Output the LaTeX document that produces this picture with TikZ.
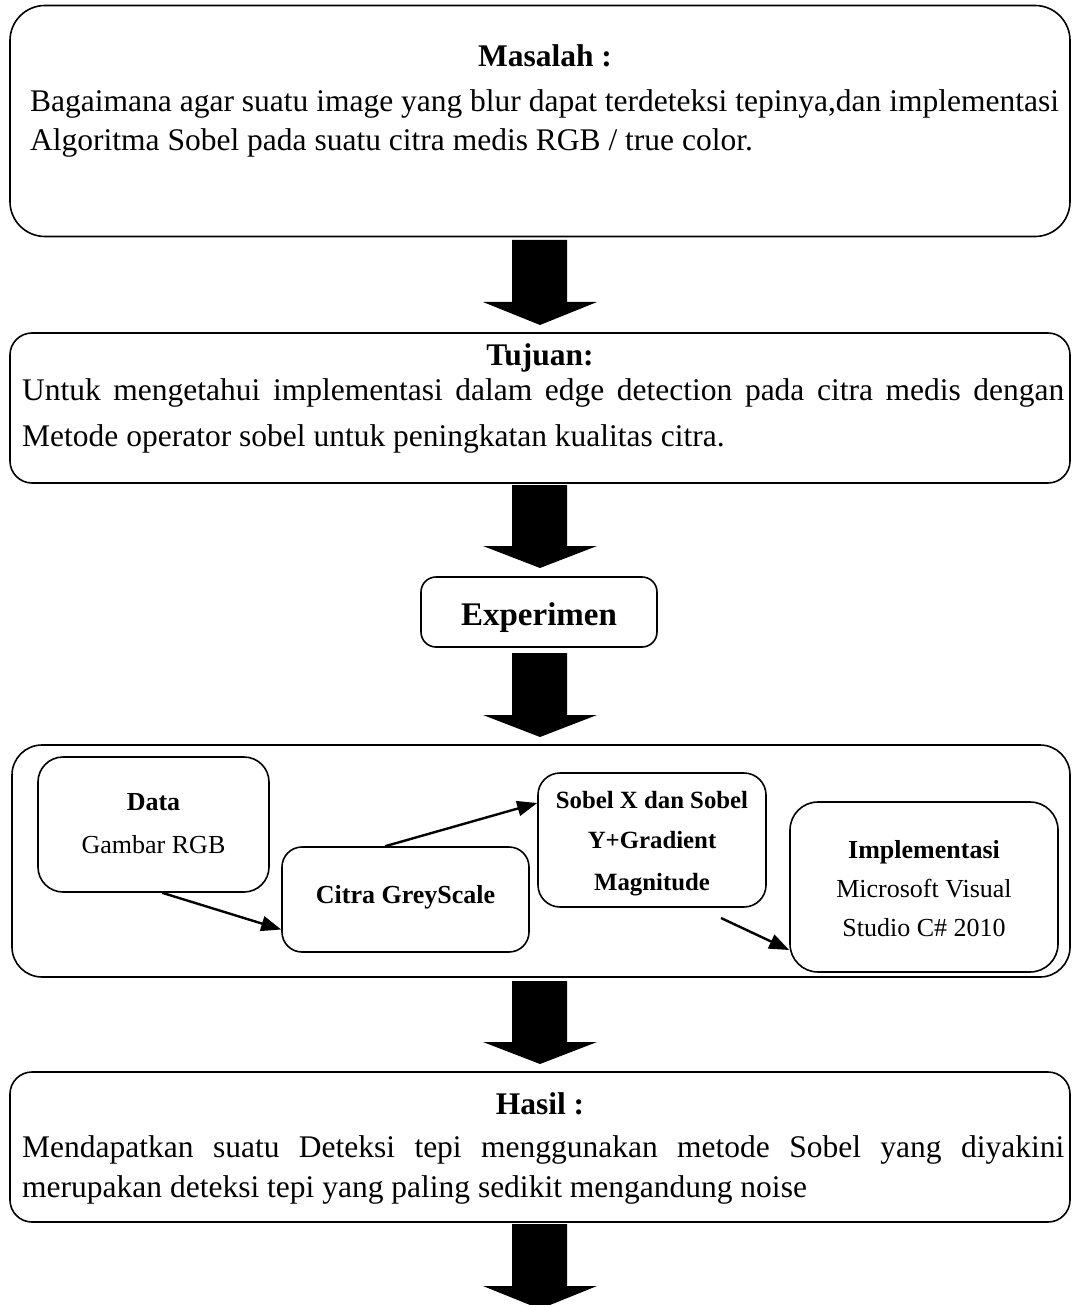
\documentclass[tikz,border=0pt]{standalone}
\usepackage{fontspec}
\setmainfont{Liberation Serif}
\usetikzlibrary{calc,arrows.meta}
\newcommand\blockarrow[3]{\fill (512,#1) -- (567,#1) -- (567,#2) -- (597,#2) -- (540,#3) -- (483,#2) -- (512,#2) -- cycle;}
\begin{document}
\begin{tikzpicture}[x=1pt,y=-1pt,
  box/.style={draw=black,line width=1.6pt,inner sep=0pt},
  body/.style={inner sep=0pt,font=\fontsize{31.5}{36}\selectfont},
  head/.style={inner sep=0pt,font=\fontsize{31.5}{36}\selectfont\bfseries},
  small/.style={inner sep=0pt,font=\fontsize{26}{30}\selectfont},
  smallb/.style={inner sep=0pt,font=\fontsize{26}{30}\selectfont\bfseries},
  sobelf/.style={inner sep=0pt,font=\fontsize{24.8}{28}\selectfont\bfseries},
  conn/.style={line width=2.4pt,-{Triangle[length=20pt,width=15pt]}}]
\useasboundingbox (0,0) rectangle (1073,1305);
% Masalah
\node[box,rounded corners=35pt,minimum width=1060pt,minimum height=231pt] (masalah) at (540,121) {};
\node[head,anchor=base] (tmasalah) at (545,67) {Masalah :};
\node[body,anchor=base west] (m1) at (30,112) {Bagaimana agar suatu image yang blur dapat terdeteksi tepinya,dan implementasi};
\node[body,anchor=base west] (m2) at (30,151) {Algoritma Sobel pada suatu citra medis RGB / true color.};
\blockarrow{240}{302}{325}
% Tujuan
\node[box,rounded corners=22pt,minimum width=1060pt,minimum height=150pt] (tujuan) at (540,408) {};
\node[head,anchor=base] (ttujuan) at (540,365) {Tujuan:};
\node[body,anchor=base west] (t1) at (22,400) {\makebox[1042pt][s]{Untuk mengetahui implementasi dalam edge detection pada citra medis dengan}};
\node[body,anchor=base west] (t2) at (22,446) {Metode operator sobel untuk peningkatan kualitas citra.};
\blockarrow{485}{546}{568}
% Experimen
\node[box,rounded corners=15pt,minimum width=236pt,minimum height=70pt] (exp) at (539,612) {};
\node[inner sep=0pt,font=\fontsize{33}{38}\selectfont\bfseries,anchor=base] (texp) at (539,625) {Experimen};
\blockarrow{653}{715}{737}
% big box
\node[box,rounded corners=30pt,minimum width=1058pt,minimum height=232pt] (big) at (541,861) {};
\node[box,rounded corners=25pt,minimum width=231pt,minimum height=135pt] (data) at (153.5,824.5) {};
\node[smallb,anchor=base] (tdata) at (153.5,810) {Data};
\node[small,anchor=base] (tgambar) at (153.5,853) {Gambar RGB};
\node[box,rounded corners=20pt,minimum width=247pt,minimum height=105pt] (grey) at (405.5,899.5) {};
\node[smallb,anchor=base] (tgrey) at (405.5,903) {Citra GreyScale};
\node[box,rounded corners=22pt,minimum width=228pt,minimum height=134pt] (sobel) at (652,840) {};
\node[sobelf,anchor=base] (ts1) at (652,808) {Sobel X dan Sobel};
\node[sobelf,anchor=base] (ts2) at (652,848) {Y+Gradient};
\node[sobelf,anchor=base] (ts3) at (652,890) {Magnitude};
\node[box,rounded corners=28pt,minimum width=268pt,minimum height=170pt] (impl) at (924,887) {};
\node[smallb,anchor=base] (timpl) at (924,858) {Implementasi};
\node[small,anchor=base] (tms) at (924,897) {Microsoft Visual};
\node[small,anchor=base] (tvs) at (924,936) {Studio C\# 2010};
\coordinate (a3s) at (721,918);
\draw[conn] ($(data.south west)+(125,0)$) -- ($(grey.west)+(0,30)$);
\draw[conn] ($(grey.north west)+(104,0)$) -- ($(sobel.west)+(0,-37)$);
\draw[conn] (a3s) -- ($(impl.west)+(0,63)$);
\blockarrow{981}{1042}{1064}
% Hasil
\node[box,rounded corners=22pt,minimum width=1060pt,minimum height=150pt] (hasil) at (540,1147) {};
\node[head,anchor=base] (thasil) at (540,1114) {Hasil :};
\node[body,anchor=base west] (h1) at (22,1157) {\makebox[1042pt][s]{Mendapatkan suatu Deteksi tepi menggunakan metode Sobel yang diyakini}};
\node[body,anchor=base west] (h2) at (22,1197) {merupakan deteksi tepi yang paling sedikit mengandung noise};
\blockarrow{1224}{1286}{1309}
\end{tikzpicture}
\end{document}
